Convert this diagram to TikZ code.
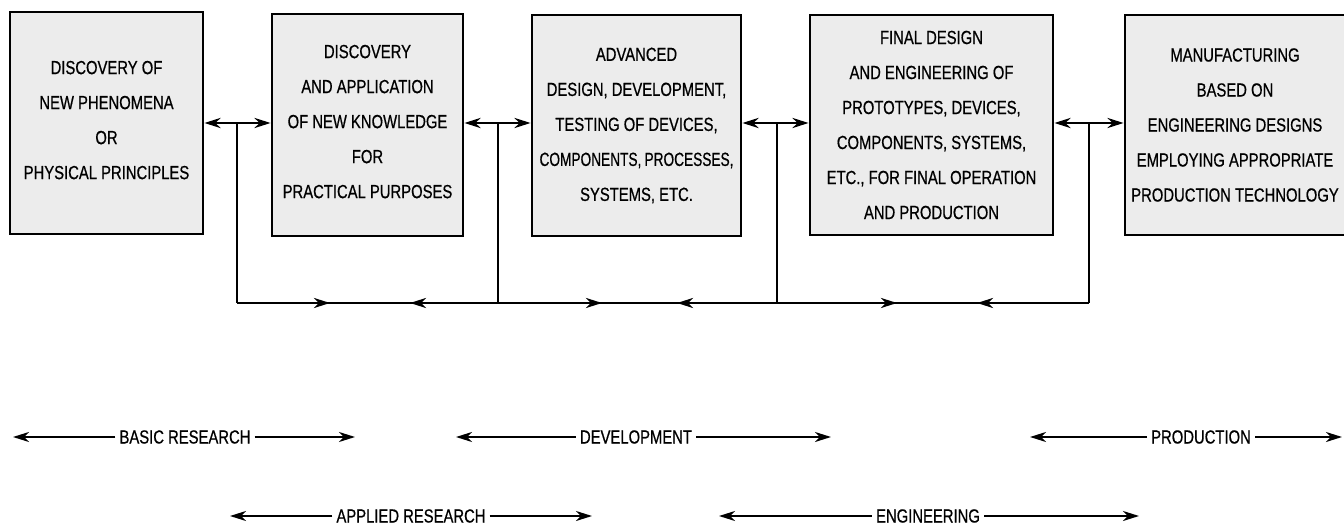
\documentclass[tikz,border=0pt]{standalone}
\usepackage{fontspec}
\setmainfont{Liberation Sans}[FakeStretch=0.78,FakeBold=0.6]
\usetikzlibrary{arrows.meta,decorations.markings}
\tikzset{
  arr/.tip={Stealth[length=16pt,width=10pt,inset=5pt]},
  box/.style={draw, line width=2.8pt, fill=gray!15, align=center, inner sep=0pt,
    font=\fontsize{19}{35}\selectfont},
  conn/.style={line width=2.8pt},
  lab/.style={inner sep=4pt, font=\fontsize{19}{22}\selectfont},
  span/.style={line width=2.2pt, -arr}
}
\begin{document}
\begin{tikzpicture}[x=1pt,y=-1pt]
\useasboundingbox (0,0) rectangle (1344,529);
% boxes
\node[box, minimum width=193pt, minimum height=222pt] (b1) at (106.5,123)
  {DISCOVERY OF\\NEW PHENOMENA\\OR\\PHYSICAL PRINCIPLES\\[-29pt]};
\node[box, minimum width=191pt, minimum height=222pt] (b2) at (367.5,125)
  {DISCOVERY\\AND APPLICATION\\OF NEW KNOWLEDGE\\FOR\\PRACTICAL PURPOSES\\[-28pt]};
\node[box, minimum width=209pt, minimum height=221pt] (b3) at (636.5,125.5)
  {ADVANCED\\DESIGN, DEVELOPMENT,\\TESTING OF DEVICES,\\{\addfontfeature{FakeStretch=0.72}COMPONENTS,\,PROCESSES,}\\SYSTEMS, ETC.};
\node[box, minimum width=243pt, minimum height=220pt] (b4) at (931.5,125)
  {FINAL DESIGN\\AND ENGINEERING OF\\PROTOTYPES, DEVICES,\\COMPONENTS, SYSTEMS,\\ETC., FOR FINAL OPERATION\\AND PRODUCTION};
\node[box, minimum width=220pt, minimum height=220pt] (b5) at (1235,125)
  {MANUFACTURING\\BASED ON\\ENGINEERING DESIGNS\\EMPLOYING APPROPRIATE\\PRODUCTION TECHNOLOGY};
% junctions
\coordinate (j1) at (237,123);
\coordinate (j2) at (498,123);
\coordinate (j3) at (777,123);
\coordinate (j4) at (1089,123);
\coordinate (c1) at (237,303);
\coordinate (c2) at (498,303);
\coordinate (c3) at (777,303);
\coordinate (c4) at (1089,303);
\draw[conn, arr-arr] (b1.east |- j1) -- (b2.west |- j1);
\draw[conn, arr-arr] (b2.east |- j2) -- (b3.west |- j2);
\draw[conn, arr-arr] (b3.east |- j3) -- (b4.west |- j3);
\draw[conn, arr-arr] (b4.east |- j4) -- (b5.west |- j4);
\draw[conn] (j1) -- (c1);
\draw[conn] (j2) -- (c2);
\draw[conn] (j3) -- (c3);
\draw[conn] (j4) -- (c4);
\draw[conn, postaction={decorate}, decoration={markings,
   mark=at position 93pt with {\arrow{arr}},
   mark=at position 173pt with {\arrowreversed{arr}},
   mark=at position 365pt with {\arrow{arr}},
   mark=at position 440pt with {\arrowreversed{arr}},
   mark=at position 660pt with {\arrow{arr}},
   mark=at position 740pt with {\arrowreversed{arr}}}]
  (c1) -- (c4);
% spans
\node[lab] (basic) at (185,437) {BASIC RESEARCH};
\coordinate (basicL) at (13,437);
\coordinate (basicR) at (355,437);
\draw[span] (basic.west) -- (basicL);
\draw[span] (basic.east) -- (basicR);
\node[lab] (dev) at (636,437) {DEVELOPMENT};
\coordinate (devL) at (456,437);
\coordinate (devR) at (831,437);
\draw[span] (dev.west) -- (devL);
\draw[span] (dev.east) -- (devR);
\node[lab] (prod) at (1201,437) {PRODUCTION};
\coordinate (prodL) at (1030,437);
\coordinate (prodR) at (1342,437);
\draw[span] (prod.west) -- (prodL);
\draw[span] (prod.east) -- (prodR);
\node[lab] (appl) at (411,516) {APPLIED RESEARCH};
\coordinate (applL) at (230,516);
\coordinate (applR) at (592,516);
\draw[span] (appl.west) -- (applL);
\draw[span] (appl.east) -- (applR);
\node[lab] (eng) at (928,516) {ENGINEERING};
\coordinate (engL) at (719,516);
\coordinate (engR) at (1139,516);
\draw[span] (eng.west) -- (engL);
\draw[span] (eng.east) -- (engR);
\end{tikzpicture}
\end{document}
